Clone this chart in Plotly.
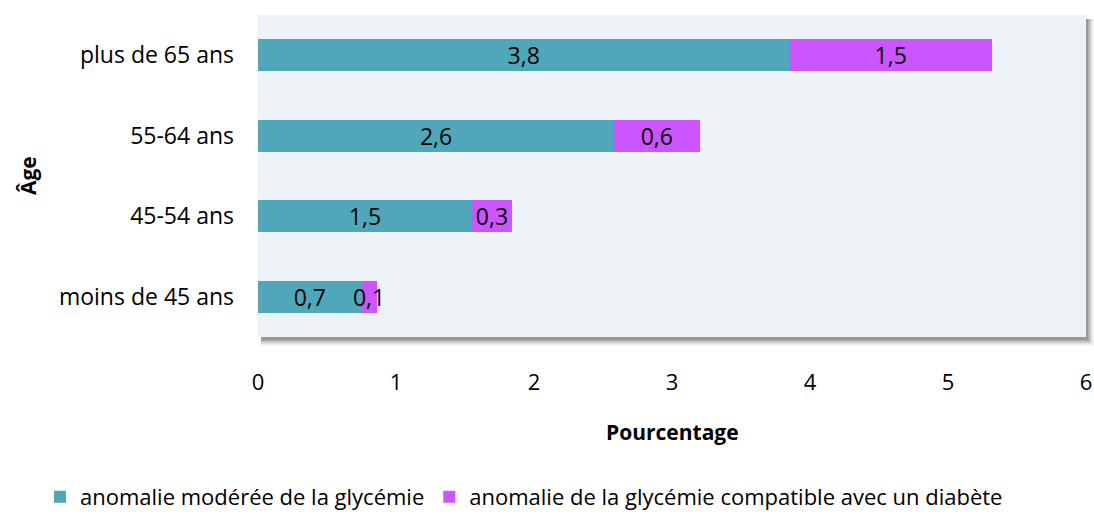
import plotly.graph_objects as go

categories = ["moins de 45 ans", "45-54 ans", "55-64 ans", "plus de 65 ans"]
moderee = [0.75, 1.55, 2.58, 3.85]
diabete = [0.11, 0.29, 0.62, 1.47]
moderee_labels = ["0,7", "1,5", "2,6", "3,8"]
diabete_labels = ["0,1", "0,3", "0,6", "1,5"]
series_names = ["anomalie modérée de la glycémie",
                "anomalie de la glycémie compatible avec un diabète"]
x_ticks = [0, 1, 2, 3, 4, 5, 6]

FONT = "Open Sans"
W, H = 1094, 517
ML, MR, MT, MB = 258, 8, 15, 180
PW, PH = W - ML - MR, H - MT - MB
px = 1.0 / PW
py = 1.0 / PH

fig = go.Figure()
for vals, labels, name, color in [(moderee, moderee_labels, series_names[0], "#4FA7BA"),
                                  (diabete, diabete_labels, series_names[1], "#CC55FF")]:
    fig.add_trace(go.Bar(y=categories, x=vals, orientation="h", name=name,
                         marker=dict(color=color, line=dict(width=0)),
                         text=labels, textposition="inside", insidetextanchor="middle",
                         textangle=0, constraintext="none",
                         textfont=dict(color="black", size=23, family=FONT), width=0.4,
                         cliponaxis=False))

shapes = []
# soft shadow (right and bottom)
for d, op in [(8, 0.04), (7, 0.05), (6, 0.06), (5, 0.08), (4, 0.10), (3, 0.12), (2, 0.14)]:
    shapes.append(dict(type="rect", xref="paper", yref="paper",
                       x0=3 * px, x1=1.0 + d * px,
                       y0=-(d + 1) * py, y1=1.0 - 4 * py,
                       fillcolor=f"rgba(40,40,40,{op})", line=dict(width=0), layer="below"))
shapes.append(dict(type="rect", xref="paper", yref="paper", x0=0, x1=1, y0=0, y1=1,
                   fillcolor="#EDF2F7", line=dict(width=0), layer="below"))

annotations = [
    dict(text="<b>Pourcentage</b>", xref="paper", yref="paper", x=0.5, y=0,
         yshift=-95, showarrow=False, font=dict(size=21, family=FONT),
         xanchor="center", yanchor="middle"),
    dict(text="<b>Âge</b>", xref="paper", yref="paper", x=0, y=0.5,
         xshift=-230, textangle=-90, showarrow=False, font=dict(size=21, family=FONT),
         xanchor="center", yanchor="middle"),
]

fig.update_layout(
    barmode="stack",
    width=W, height=H,
    margin=dict(l=ML, r=MR, t=MT, b=MB, autoexpand=False),
    paper_bgcolor="white", plot_bgcolor="rgba(0,0,0,0)",
    font=dict(family=FONT, size=20, color="black"),
    shapes=shapes,
    annotations=annotations,
    uniformtext=dict(minsize=23, mode="show"),
    xaxis=dict(range=[0, 6], tickvals=x_ticks, showgrid=False, zeroline=False,
               showline=False, ticks="", ticklabelstandoff=30, automargin=False,
               tickfont=dict(size=22)),
    yaxis=dict(showgrid=False, zeroline=False, showline=False, ticks="",
               ticklabelstandoff=23, automargin=False, tickfont=dict(size=23)),
    legend=dict(orientation="h", xref="paper", yref="paper",
                x=(40 - ML) / PW, xanchor="left", y=-(160 / PH), yanchor="middle",
                font=dict(size=22), itemwidth=30, traceorder="normal",
                bgcolor="rgba(0,0,0,0)"),
    showlegend=True,
)
fig.write_html("out.html", config={"displayModeBar": False},
               post_script="document.body.style.margin='0';"
                           "document.body.style.overflow='hidden';")
